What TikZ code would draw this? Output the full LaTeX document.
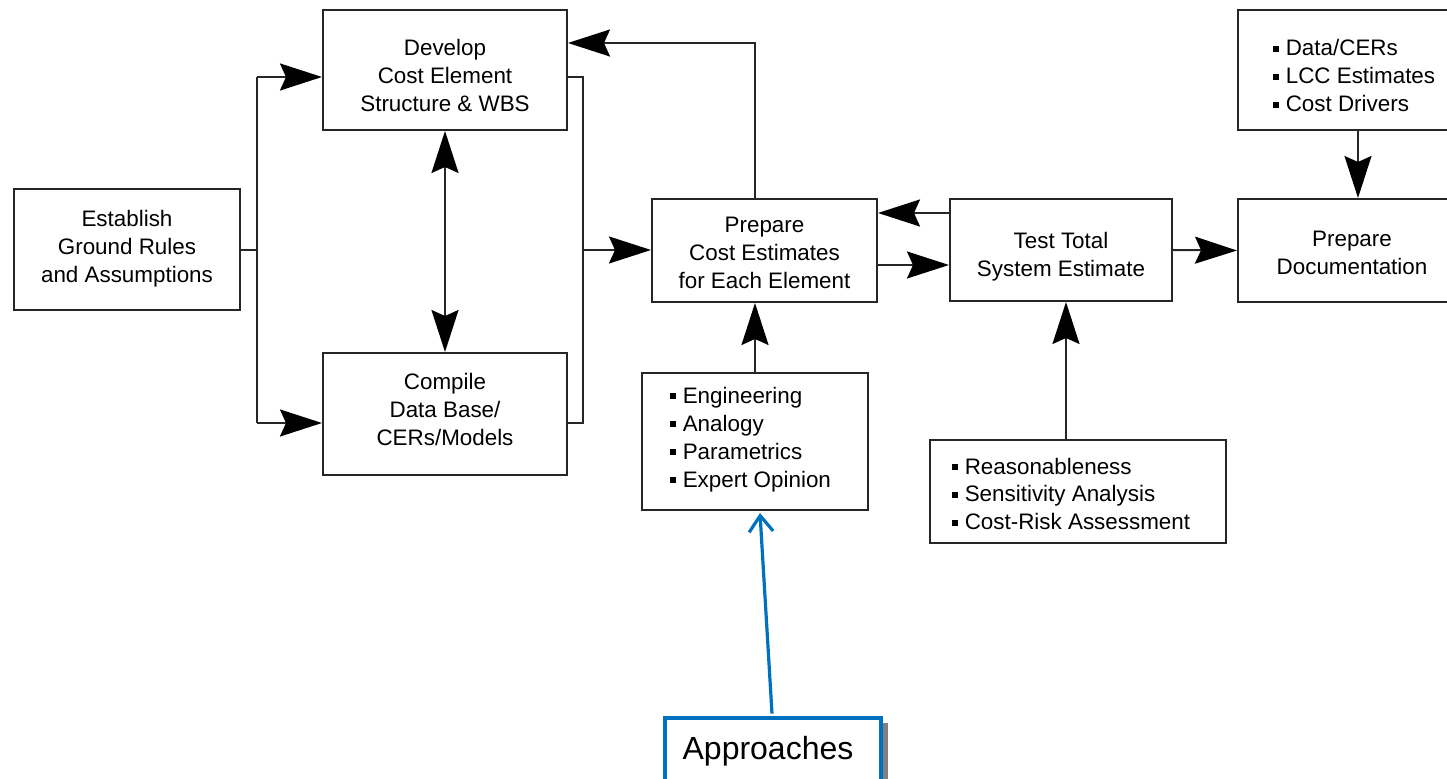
\documentclass[tikz,border=0pt]{standalone}
\usepackage{fontspec}
\setmainfont{Liberation Sans}
\usetikzlibrary{arrows.meta,calc}
\newcommand\sqb{\rule[0.2em]{2.7pt}{2.7pt}\hspace{3.5pt}}
\definecolor{calloutblue}{RGB}{0,112,192}
\begin{document}
\begin{tikzpicture}[x=0.5pt,y=-0.5pt,
  box/.style={draw=black!85,line width=1pt,fill=white,inner sep=0pt},
  txt/.style={align=center,font=\fontsize{11.2}{14}\selectfont,inner sep=0pt},
  lst/.style={align=left,font=\fontsize{11.2}{14}\selectfont,inner sep=0pt,anchor=west},
  wire/.style={draw=black!85,line width=1pt},
  tip/.style={wire,-{Stealth[length=21pt,width=13.5pt,inset=3pt,black]}},
  tips/.style={wire,{Stealth[length=21pt,width=13.5pt,inset=3pt,black]}-{Stealth[length=21pt,width=13.5pt,inset=3pt,black]}},
  bluetip/.style={draw=calloutblue,line width=1.6pt,-{Straight Barb[length=8pt,width=12pt,line width=1.6pt]}}]
\useasboundingbox (0,0) rectangle (1447,779);
\clip (0,0) rectangle (1447,779);

% process boxes
\node[box,minimum width=113pt,minimum height=60.5pt] (est) at (127,249.5) {};
\node[txt] at (127,249) {Establish\\Ground Rules\\and Assumptions};

\node[box,minimum width=122pt,minimum height=60pt] (dev) at (445,70) {};
\node[txt] at (445,76) {Develop\\Cost Element\\Structure \& WBS};

\node[box,minimum width=122pt,minimum height=61pt] (comp) at (445,414) {};
\node[txt] at (445,409) {Compile\\Data Base/\\CERs/Models};

\node[box,minimum width=112.5pt,minimum height=51.5pt] (prep) at (764.5,250.5) {};
\node[txt] at (764.5,253) {Prepare\\Cost Estimates\\for Each Element};

\node[box,minimum width=111pt,minimum height=51pt] (test) at (1061,250) {};
\node[txt] at (1061,256.5) {Test Total\\System Estimate};

\node[box,minimum width=112pt,minimum height=51.5pt] (doc) at (1350,250.5) {};
\node[txt] at (1352,253) {Prepare\\Documentation};

% input lists
\node[box,minimum width=112pt,minimum height=60pt] (drv) at (1350,70) {};
\node[lst] at (1273,76) {\sqb Data/CERs\\\sqb LCC Estimates\\\sqb Cost Drivers};

\node[box,minimum width=113pt,minimum height=68.5pt] (appr) at (755,441.5) {};
\node[lst] at (670,439.5) {\sqb Engineering\\\sqb Analogy\\\sqb Parametrics\\\sqb Expert Opinion};

\node[box,minimum width=148pt,minimum height=51.5pt] (chk) at (1078,491.5) {};
\node[lst] at (952,494) {\sqb Reasonableness\\\sqb Sensitivity Analysis\\\sqb Cost-Risk Assessment};

% callout with its shadow
\fill[black!50] (668,723) rectangle (888,800);
\node[draw=calloutblue,line width=2.4pt,fill=white,
  minimum width=108pt,minimum height=40pt,inner sep=0pt] (lab) at (773,758) {};
\node[inner sep=0pt,font=\fontsize{16}{18}\selectfont] at (768,751) {Approaches};

% junction points
\coordinate (j1) at (257,250);
\coordinate (j1t) at (257,77);
\coordinate (j1b) at (257,423);
\coordinate (j2) at (583,250);
\coordinate (j2t) at (583,77);
\coordinate (j2b) at (583,423);
\coordinate (fb) at (755,43);
\coordinate (tx) at (1066,0);

% connectors
\draw[wire] (est.east |- j1) -- (j1);
\draw[wire] (j1t) -- (j1b);
\draw[tip] (j1t) -- (dev.west |- j1t);
\draw[tip] (j1b) -- (comp.west |- j1b);
\draw[tips] (dev.south) -- (comp.north);
\draw[wire] (dev.east |- j2t) -- (j2t) -- (j2b) -- (comp.east |- j2b);
\draw[tip] (j2) -- (prep.west |- j2);
\draw[tip] (prep.north -| fb) -- (fb) -- (dev.east |- fb);
\draw[tip] ($(test.west)+(0,-37)$) -- ($(prep.east)+(0,-37.5)$);
\draw[tip] ($(prep.east)+(0,14.5)$) -- ($(test.west)+(0,15)$);
\draw[tip] (test.east) -- (doc.west);
\draw[tip] ($(drv.south)+(8,0)$) -- ($(doc.north)+(8,0)$);
\draw[tip] (appr.north) -- (appr.north |- prep.south);
\draw[tip] (chk.north -| tx) -- (test.south -| tx);
\draw[bluetip] ($(lab.north)+(-1,-2)$) -- ($(appr.south)+(5,2)$);
\end{tikzpicture}
\end{document}
